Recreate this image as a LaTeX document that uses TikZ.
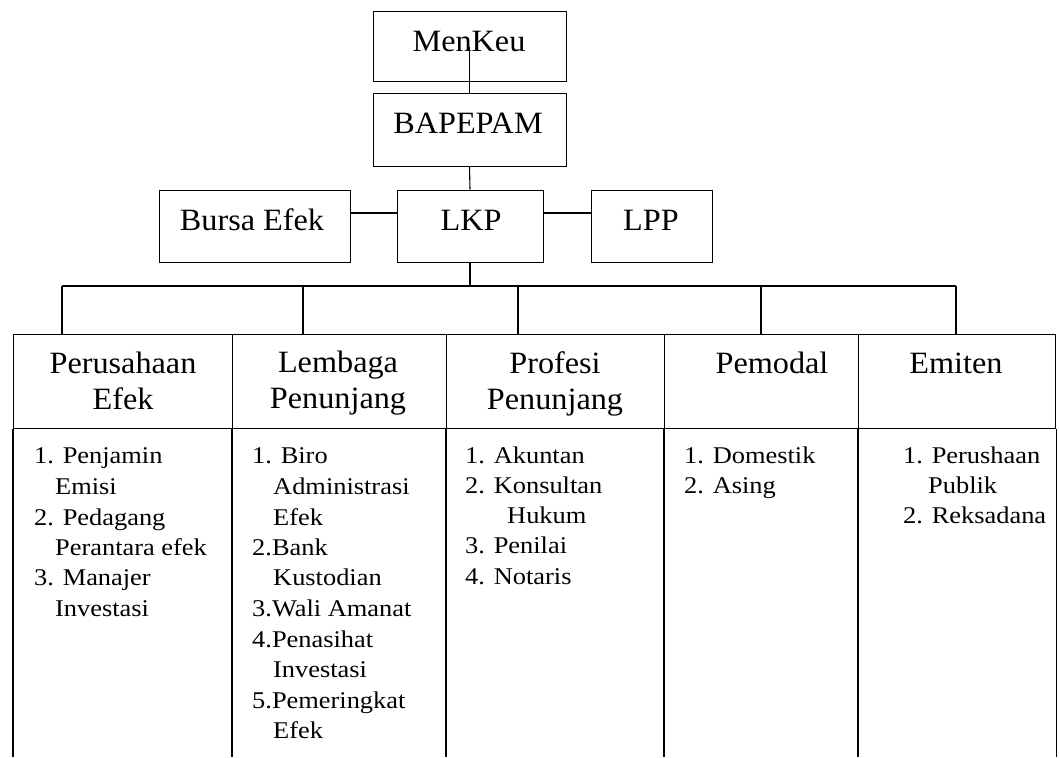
\documentclass[tikz,border=0pt]{standalone}
\usepackage{fontspec}
\setmainfont{Liberation Serif}
\newfontfamily\itemfont[FakeStretch=1.1]{Liberation Serif}
\newfontfamily\lblfont[FakeStretch=1.04]{Liberation Serif}
\begin{document}
\begin{tikzpicture}[x=1pt,y=-1pt,
  box/.style={draw,line width=1pt,inner sep=0pt},
  lbl/.style={anchor=base,font=\lblfont\fontsize{31}{37}\selectfont,inner sep=0pt},
  cell/.style={draw,line width=1.3pt,inner sep=0pt,minimum height=94pt,anchor=north west},
  tbl/.style={line width=1.3pt},
  item/.style={anchor=base west,font=\itemfont\fontsize{24}{30}\selectfont,inner sep=0pt},
  conn/.style={line width=1.1pt}]
\useasboundingbox (0,0) rectangle (1059,757);

% top boxes
\node[box,minimum width=193pt,minimum height=70pt] (menkeu) at (469.5,47) {};
\node[box,minimum width=193pt,minimum height=72pt] (bapepam) at (469.5,130) {};
\node[box,minimum width=191pt,minimum height=72pt] (bursa) at (254.5,226) {};
\node[box,minimum width=146pt,minimum height=72pt] (lkp) at (470,226) {};
\node[box,minimum width=121pt,minimum height=72pt] (lpp) at (651.5,226) {};

\draw[conn] (menkeu.center) -- (bapepam.north);
\draw[conn] (bapepam.south) -- (lkp.north);
\draw[conn] ([yshift=13pt]bursa.east) -- ([yshift=13pt]lkp.west);
\draw[conn] ([yshift=13pt]lkp.east) -- ([yshift=13pt]lpp.west);

\node[lbl] (menkeuT) at (469,52) {MenKeu};
\node[lbl] (bapepamT) at (468,133) {BAPEPAM};
\node[lbl] (bursaT) at (252,230) {Bursa Efek};
\node[lbl] (lkpT) at (471,230) {LKP};
\node[lbl] (lppT) at (651,230) {LPP};

% header cells
\node[cell,minimum width=219pt] (h1) at (13,334) {};
\node[cell,minimum width=214pt] (h2) at (232,334) {};
\node[cell,minimum width=218pt] (h3) at (446,334) {};
\node[cell,minimum width=194pt] (h4) at (664,334) {};
\node[cell,minimum width=197pt] (h5) at (858,334) {};

\coordinate (bot) at (0,757);
\foreach \i in {1,...,5} \draw[tbl] (h\i.south west) -- (h\i.south west |- bot);
\draw[tbl] (h5.south east) -- (h5.south east |- bot);

% bus
\coordinate (bus0) at (470,286);
\coordinate (d1) at (62,286);
\coordinate (d2) at (303,286);
\coordinate (d3) at (518,286);
\coordinate (d4) at (761,286);
\coordinate (d5) at (956,286);
\draw[conn] (lkp.south) -- (bus0);
\draw[tbl] (d1) -- (d5);
\foreach \i in {1,...,5} \draw[tbl] (d\i) -- (d\i |- h\i.north);

% header texts
\node[lbl] (t1a) at (123,373) {Perusahaan};
\node[lbl] (t1b) at (123,409) {Efek};
\node[lbl] (t2a) at (338,372) {Lembaga};
\node[lbl] (t2b) at (338,408) {Penunjang};
\node[lbl] (t3a) at (555,373) {Profesi};
\node[lbl] (t3b) at (555,409) {Penunjang};
\node[lbl] (t4a) at (772,373) {Pemodal};
\node[lbl] (t5a) at (956,373) {Emiten};

% items
\foreach \x/\y/\t [count=\i] in {34/463/1. Penjamin, 55/494/Emisi, 34/525/2. Pedagang, 55/555/Perantara efek, 34/585/3. Manajer, 55/616/Investasi}
  \node[item] (c1-\i) at (\x,\y) {\t};
\foreach \x/\y/\t [count=\i] in {252/463/1. Biro, 273/494/Administrasi, 273/525/Efek, 252/555/2.Bank, 273/585/Kustodian, 252/616/3.Wali Amanat, 252/647/4.Penasihat, 273/677/Investasi, 252/708/5.Pemeringkat, 273/738/Efek}
  \node[item] (c2-\i) at (\x,\y) {\t};
\foreach \x/\y/\t [count=\i] in {465/463/1. Akuntan, 465/493/2. Konsultan, 507/523/Hukum, 465/553/3. Penilai, 465/584/4. Notaris}
  \node[item] (c3-\i) at (\x,\y) {\t};
\foreach \x/\y/\t [count=\i] in {684/463/1. Domestik, 684/493/2. Asing}
  \node[item] (c4-\i) at (\x,\y) {\t};
\foreach \x/\y/\t [count=\i] in {903/463/1. Perushaan, 928/493/Publik, 903/523/2. Reksadana}
  \node[item] (c5-\i) at (\x,\y) {\t};
\end{tikzpicture}
\end{document}
